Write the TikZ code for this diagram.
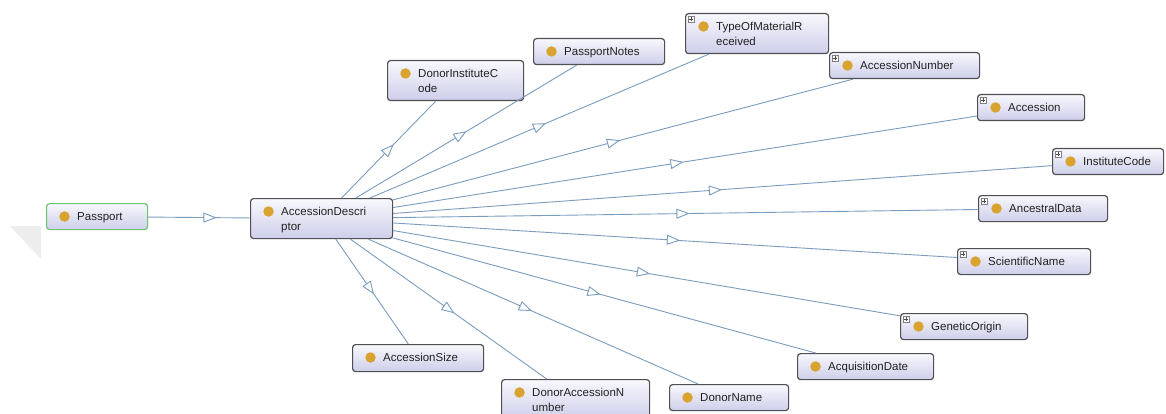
\documentclass[tikz,border=0pt]{standalone}
\usepackage{fontspec}
\setmainfont{Liberation Sans}
\usetikzlibrary{decorations.markings,calc}

\definecolor{edgeblue}{RGB}{122,156,190}
\definecolor{dotgold}{RGB}{217,163,48}
\definecolor{boxtop}{RGB}{248,248,253}
\definecolor{boxbot}{RGB}{206,206,234}
\definecolor{boxline}{RGB}{80,80,84}
\definecolor{rootgreen}{RGB}{110,196,110}
\definecolor{labelgray}{RGB}{34,34,34}
\definecolor{fadegray}{RGB}{237,237,237}

\tikzset{
  owlbox/.style={draw=boxline, line width=1.2pt, rounded corners=3pt,
    top color=boxtop, bottom color=boxbot, anchor=north west, inner sep=0pt},
  rootbox/.style={owlbox, draw=rootgreen},
  owldot/.style={circle, fill=dotgold, minimum size=10.5pt, inner sep=0pt},
  owllabel/.style={anchor=base west, inner sep=0pt,
    font=\fontsize{11.5}{13}\selectfont, text=labelgray},
  plusbox/.style={draw=gray, fill=white, line width=0.5pt,
    minimum size=6pt, inner sep=0pt},
  isa/.style={draw=edgeblue, line width=0.9pt},
  isatip/.style={decoration={markings, mark=at position 0.5 with {%
      \draw[draw=edgeblue, line width=0.9pt, fill=white, line join=round]
        (6,0) -- (-5.5,4.5) -- (-5.5,-4.5) -- cycle;}}, decorate},
}

% #1 name, #2 left, #3 top, #4 width, #5 height,
% #6 first text line, #7 second text line, #8 box style
\newcommand\owlclass[8]{%
  \node[#8, minimum width=#4, minimum height=#5] (#1) at (#2,#3) {};
  \node[owldot] (#1-dot) at (#2+18.5,#3+13.5) {};
  \node[owllabel] (#1-l1) at (#2+31,#3+17.5) {#6};
  \if\relax\detokenize{#7}\relax\else
    \node[owllabel] (#1-l2) at (#2+31,#3+32.5) {#7};
  \fi
}
% small expand marker in the top-left corner of a class box
\newcommand\owlplus[1]{%
  \node[plusbox] (#1-plus) at ($(#1.north west)+(6,6)$) {};
  \draw[line width=0.6pt, black!70] ($(#1-plus.center)+(-2,0)$) -- ($(#1-plus.center)+(2,0)$);
  \draw[line width=0.6pt, black!70] ($(#1-plus.center)+(0,-2)$) -- ($(#1-plus.center)+(0,2)$);
}

\begin{document}
\begin{tikzpicture}[x=1pt, y=-1pt]
  \path[use as bounding box, clip] (0,0) rectangle (1166,414);
  \fill[white] (0,0) rectangle (1166,414);
  \fill[fadegray] (10,226) -- (41,226) -- (41,259) -- cycle;

  % class boxes
  \owlclass{passport}{46}{203}{101}{26}{Passport}{}{rootbox}
  \owlclass{desc}{250}{198}{142}{40}{AccessionDescri}{ptor}{owlbox}
  \owlclass{donorInst}{387}{60}{136}{40}{DonorInstituteC}{ode}{owlbox}
  \owlclass{passNotes}{533}{38}{131}{26}{PassportNotes}{}{owlbox}
  \owlclass{typeMat}{685}{13}{143}{40}{TypeOfMaterialR}{eceived}{owlbox}
  \owlclass{accNum}{829}{52}{150}{26}{AccessionNumber}{}{owlbox}
  \owlclass{accession}{977}{94}{107}{26}{Accession}{}{owlbox}
  \owlclass{instCode}{1052}{148}{111}{26}{InstituteCode}{}{owlbox}
  \owlclass{ancestral}{978}{195}{129}{26}{AncestralData}{}{owlbox}
  \owlclass{sciName}{957}{248}{133}{26}{ScientificName}{}{owlbox}
  \owlclass{genOrigin}{900}{313}{127}{26}{GeneticOrigin}{}{owlbox}
  \owlclass{acqDate}{797}{353}{136}{26}{AcquisitionDate}{}{owlbox}
  \owlclass{donorName}{669}{384}{119}{26}{DonorName}{}{owlbox}
  \owlclass{donorAccNum}{501}{379}{148}{40}{DonorAccessionN}{umber}{owlbox}
  \owlclass{accSize}{352}{344}{131}{27}{AccessionSize}{}{owlbox}

  \foreach \c in {typeMat, accNum, accession, instCode, ancestral, sciName, genOrigin}
    {\owlplus{\c}}

  % subclass links
  \draw[isa] (passport) -- (desc);
  \path[isatip] (passport.center) -- (desc.center);
  \foreach \c in {donorInst, passNotes, typeMat, accNum, accession, instCode,
                  ancestral, sciName, genOrigin, acqDate, donorName,
                  donorAccNum, accSize}
  {
    \draw[isa] (desc) -- (\c);
    \path[isatip] (desc.center) -- (\c.center);
  }
\end{tikzpicture}
\end{document}
